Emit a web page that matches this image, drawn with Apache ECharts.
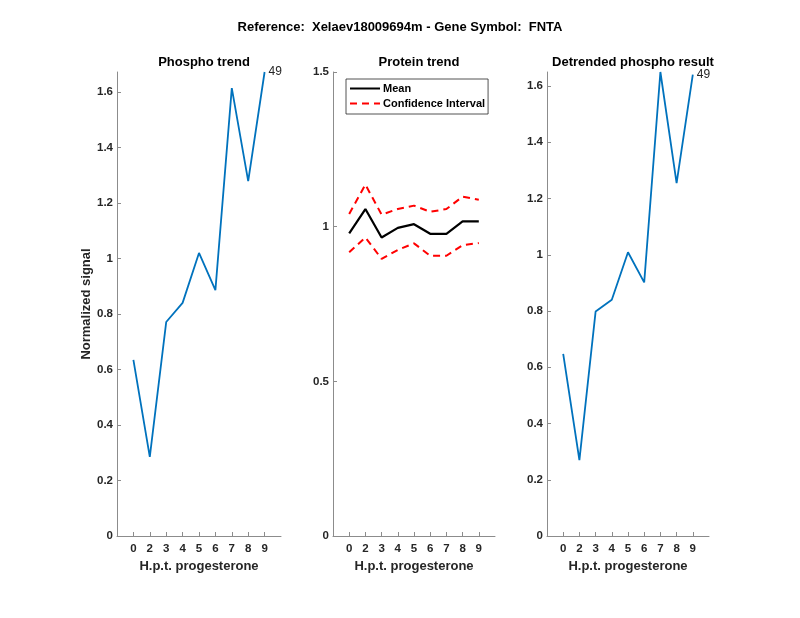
<!DOCTYPE html>
<html><head><meta charset="utf-8">
<script src="https://cdn.jsdelivr.net/npm/echarts@6/dist/echarts.min.js"></script>
<style>html,body{margin:0;padding:0;background:#fff}#c{width:800px;height:618px}</style>
</head><body><div id="c"></div>
<script>
const categories = ['0','2','3','4','5','6','7','8','9'];
const phosphoTrend = [0.635, 0.285, 0.771, 0.84, 1.02, 0.886, 1.614, 1.279, 1.672];
const proteinMean = [0.978, 1.057, 0.965, 0.996, 1.008, 0.977, 0.977, 1.017, 1.017];
const proteinUpper = [1.041, 1.136, 1.039, 1.057, 1.068, 1.048, 1.057, 1.097, 1.087];
const proteinLower = [0.917, 0.965, 0.896, 0.925, 0.946, 0.906, 0.906, 0.94, 0.947];
const detrended = [0.648, 0.27, 0.798, 0.84, 1.009, 0.902, 1.65, 1.255, 1.641];
const yTicksPhospho = [0, 0.2, 0.4, 0.6, 0.8, 1, 1.2, 1.4, 1.6];
const yTicksProtein = [0, 0.5, 1, 1.5];
const yTicksDetrended = [0, 0.2, 0.4, 0.6, 0.8, 1, 1.2, 1.4, 1.6];
const endLabel = '49';
const mainTitle = 'Reference:  Xelaev18009694m - Gene Symbol:  FNTA';
const panelTitles = ['Phospho trend', 'Protein trend', 'Detrended phospho result'];

const FONT = "'Liberation Sans', Arial, Helvetica, sans-serif";
const TXT = '#262626';
const AX = '#8c8c8c';
const xPos = categories.map((c, i) => i + 1);

function pts(arr) {
  return arr.map((v, i) => [xPos[i], v]);
}

const grids = [
  { left: 117, width: 164, top: 72, height: 464 },
  { left: 333, width: 162, top: 72, height: 464 },
  { left: 547, width: 162, top: 72, height: 464 }
];

function xAxis(gi) {
  return {
    type: 'value', gridIndex: gi, min: 0, max: 10,
    name: 'H.p.t. progesterone', nameLocation: 'middle', nameGap: 24,
    nameTextStyle: { color: TXT, fontWeight: 'bold', fontSize: 13, fontFamily: FONT },
    axisLine: { show: true, lineStyle: { color: AX, width: 1 } },
    axisTick: { show: true, inside: true, length: 4, customValues: xPos, lineStyle: { color: AX } },
    axisLabel: { customValues: xPos, formatter: v => categories[v - 1] || '', color: TXT,
      fontWeight: 'bold', fontSize: 11.5, fontFamily: FONT, margin: 7 },
    splitLine: { show: false }
  };
}
function yAxis(gi, max, ticks, name) {
  return {
    type: 'value', gridIndex: gi, min: 0, max: max,
    name: name || '', nameLocation: 'middle', nameGap: 23,
    nameTextStyle: { color: TXT, fontWeight: 'bold', fontSize: 13, fontFamily: FONT },
    axisLine: { show: true, lineStyle: { color: AX, width: 1 } },
    axisTick: { show: true, inside: true, length: 4, customValues: ticks, lineStyle: { color: AX } },
    axisLabel: { customValues: ticks, formatter: v => String(+v.toFixed(2)), color: TXT,
      fontWeight: 'bold', fontSize: 11.5, fontFamily: FONT, margin: 4 },
    splitLine: { show: false }
  };
}

const endLbl = { show: true, formatter: endLabel, color: TXT, fontSize: 12, fontFamily: FONT, distance: 4 };

const chart = echarts.init(document.getElementById('c'), null, { renderer: 'canvas' });
chart.setOption({
  animation: false,
  backgroundColor: '#fff',
  title: [
    { text: mainTitle, left: 'center', top: 16, textStyle: { color: '#000', fontWeight: 'bold', fontSize: 13, fontFamily: FONT } },
    { text: panelTitles[0], left: 199, textAlign: 'center', top: 51, textStyle: { color: '#000', fontWeight: 'bold', fontSize: 13, fontFamily: FONT } },
    { text: panelTitles[1], left: 414, textAlign: 'center', top: 51, textStyle: { color: '#000', fontWeight: 'bold', fontSize: 13, fontFamily: FONT } },
    { text: panelTitles[2], left: 628, textAlign: 'center', top: 51, textStyle: { color: '#000', fontWeight: 'bold', fontSize: 13, fontFamily: FONT } }
  ],
  legend: {
    data: ['Mean', 'Confidence Interval'],
    orient: 'vertical', left: 346, top: 79,
    backgroundColor: '#fff', borderColor: '#262626', borderWidth: 0.8, borderRadius: 0,
    padding: [4, 3, 5, 3], itemGap: 4, itemWidth: 30, itemHeight: 12,
    itemStyle: { opacity: 0 },
    textStyle: { color: '#000', fontWeight: 'bold', fontSize: 11, fontFamily: FONT, padding: [0, 0, 0, -2] },
    selectedMode: false
  },
  grid: grids,
  xAxis: [xAxis(0), xAxis(1), xAxis(2)],
  yAxis: [
    yAxis(0, Math.max(...phosphoTrend), yTicksPhospho, 'Normalized signal'),
    yAxis(1, 1.5, yTicksProtein),
    yAxis(2, Math.max(...detrended), yTicksDetrended)
  ],
  series: [
    { type: 'line', xAxisIndex: 0, yAxisIndex: 0, data: pts(phosphoTrend), symbol: 'none',
      lineStyle: { color: '#0072BD', width: 1.8 }, itemStyle: { color: '#0072BD' }, clip: false, endLabel: endLbl },
    { name: 'Mean', type: 'line', xAxisIndex: 1, yAxisIndex: 1, data: pts(proteinMean), symbol: 'none',
      lineStyle: { color: '#000', width: 2.2 }, itemStyle: { color: '#000' } },
    { name: 'Confidence Interval', type: 'line', xAxisIndex: 1, yAxisIndex: 1, data: pts(proteinUpper), symbol: 'none',
      lineStyle: { color: '#ff0000', width: 2, type: [7, 5] }, itemStyle: { color: '#ff0000' } },
    { name: 'Confidence Interval', type: 'line', xAxisIndex: 1, yAxisIndex: 1, data: pts(proteinLower), symbol: 'none',
      lineStyle: { color: '#ff0000', width: 2, type: [7, 5] }, itemStyle: { color: '#ff0000' } },
    { type: 'line', xAxisIndex: 2, yAxisIndex: 2, data: pts(detrended), symbol: 'none',
      lineStyle: { color: '#0072BD', width: 1.8 }, itemStyle: { color: '#0072BD' }, clip: false, endLabel: endLbl }
  ]
});
</script>
</body></html>
